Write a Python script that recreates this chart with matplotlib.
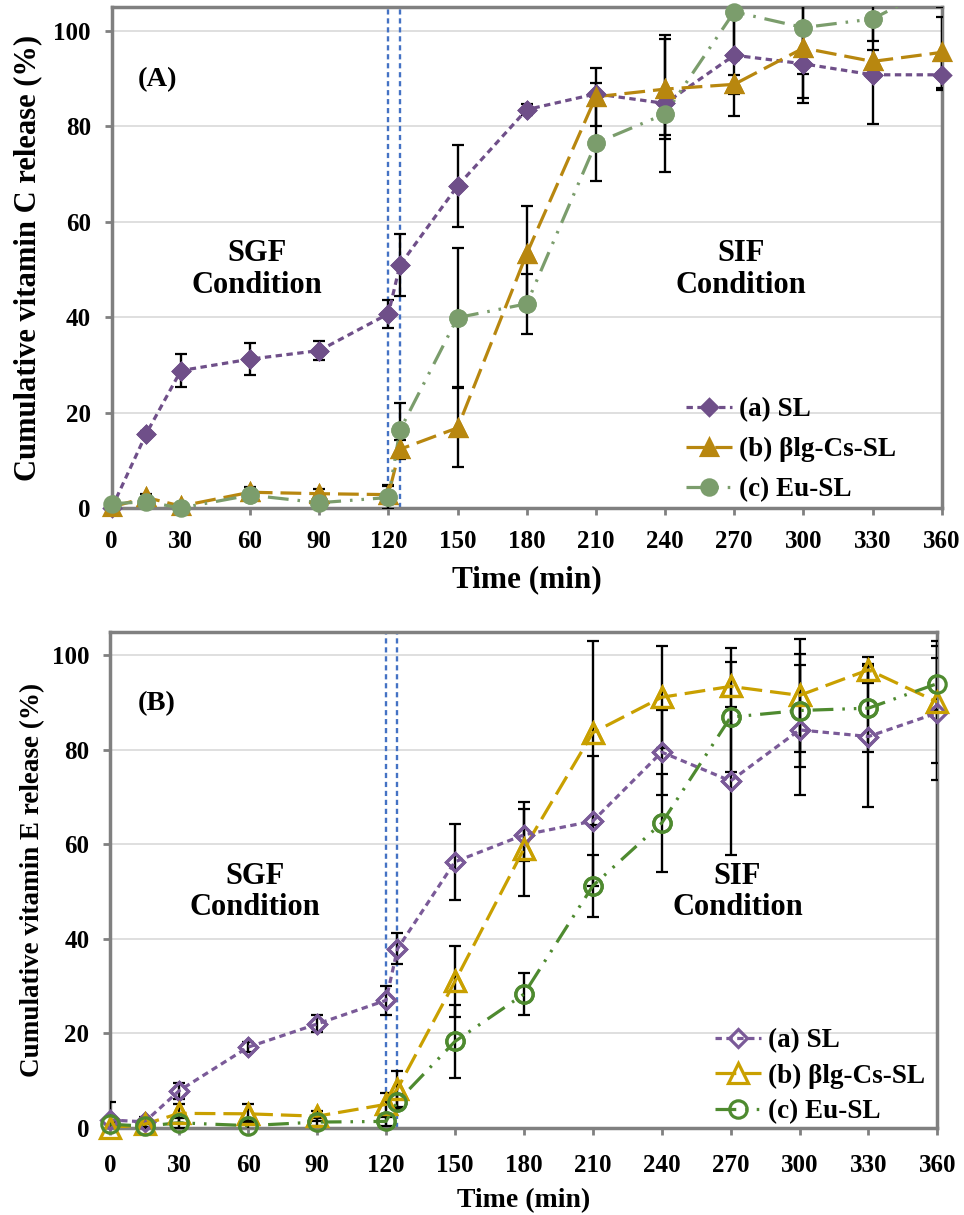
import matplotlib
matplotlib.use("Agg")
import matplotlib.pyplot as plt
import numpy as np

plt.rcParams["font.family"] = ["Liberation Serif", "DejaVu Serif"]
plt.rcParams["font.weight"] = "bold"

# sampling times (min); 125 is the first point after the SGF -> SIF switch
t = [0, 15, 30, 60, 90, 120, 125, 150, 180, 210, 240, 270, 300, 330, 360]

# (A) vitamin C
vitC_SL = [0.0, 15.6, 28.8, 31.2, 33.0, 40.7, 50.9, 67.5, 83.5, 86.8, 84.8, 94.9, 93.1, 90.8, 90.8]
vitC_SL_err = [0.5, 0.5, 3.4, 3.3, 2.0, 2.9, 6.5, 8.6, 1.2, 2.3, 14.3, 12.7, 8.3, 10.4, 3.1]
vitC_BCS = [0.2, 2.2, 0.4, 3.3, 3.0, 2.8, 12.3, 16.8, 53.3, 86.2, 87.8, 88.8, 96.4, 93.6, 95.5]
vitC_BCS_err = [0.5, 0.8, 0.5, 1.0, 1.0, 2.0, 2.0, 8.3, 10.0, 6.1, 10.5, 2.0, 10.5, 2.4, 7.5]
vitC_EU = [0.9, 1.3, 0.0, 2.7, 1.1, 2.2, 16.3, 39.9, 42.8, 76.5, 82.6, 104.0, 100.7, 102.5, 110.0]
vitC_EU_err = [0.5, 0.5, 0.5, 1.0, 0.5, 2.5, 5.8, 14.6, 6.3, 8.0, 4.5, 10.0, 9.8, 4.6, 5.0]

# (B) vitamin E
vitE_SL = [1.7, 1.3, 7.9, 17.1, 22.0, 27.0, 37.9, 56.3, 62.0, 64.9, 79.5, 73.4, 84.2, 82.8, 87.8]
vitE_SL_err = [3.7, 1.0, 1.7, 1.0, 1.8, 3.0, 3.3, 8.1, 5.5, 13.7, 9.0, 15.6, 13.7, 15.0, 14.2]
vitE_BCS = [0.0, 0.8, 3.1, 3.0, 2.5, 5.0, 8.3, 31.0, 59.0, 83.6, 91.1, 93.4, 91.5, 96.9, 90.1]
vitE_BCS_err = [0.5, 0.5, 2.0, 2.0, 1.0, 2.5, 3.8, 7.5, 10.0, 19.5, 10.8, 8.1, 12.0, 2.7, 13.0]
vitE_EU = [0.8, 0.4, 1.1, 0.5, 1.25, 1.4, 5.6, 18.3, 28.3, 51.2, 64.5, 86.9, 88.3, 88.8, 94.0]
vitE_EU_err = [0.5, 0.5, 1.0, 1.0, 0.8, 1.0, 1.5, 7.7, 4.5, 6.5, 10.4, 11.7, 12.0, 9.3, 5.5]

labels = ["(a) SL", "(b) \u03b2lg-Cs-SL", "(c) Eu-SL"]
xticks = list(range(0, 361, 30))
YMAX = 105

dash_sl = (0, (2.0, 1.4))
dash_bcs = (0, (6.5, 2.5))
dash_eu = (0, (6.5, 2.8, 0.8, 2.8, 0.8, 2.8))

GRAY = "#808080"


def style_axes(ax, ylabel, xlab_size, ylab_size, xpad, xlabpad, ylabpad):
    ax.set_xlim(0, 360)
    ax.set_ylim(0, YMAX)
    ax.set_xticks(xticks)
    ax.set_yticks([0, 20, 40, 60, 80, 100])
    ax.yaxis.grid(True, color="#D9D9D9", lw=1.2)
    ax.set_axisbelow(True)
    for sp in ax.spines.values():
        sp.set_color(GRAY)
        sp.set_linewidth(2.5)
    ax.tick_params(colors=GRAY, width=2, length=5, labelcolor="black",
                   labelsize=18)
    ax.tick_params(axis="x", pad=xpad)
    ax.tick_params(axis="y", pad=10)
    for lbl in ax.get_xticklabels() + ax.get_yticklabels():
        lbl.set_fontweight("bold")
    ax.set_xlabel("Time (min)", fontsize=xlab_size, fontweight="bold", labelpad=xlabpad)
    ax.set_ylabel(ylabel, fontsize=ylab_size, fontweight="bold", labelpad=ylabpad)
    for xv in (120, 125):
        ax.axvline(xv, color="#4472C4", lw=1.7, ls=(0, (2.2, 1.6)), zorder=1)


def draw_series(ax, y, err, color, ls, marker, ms, filled, label):
    y = np.asarray(y, dtype=float)
    ax.errorbar(t, y, yerr=err, fmt="none", ecolor="black", elinewidth=1.7,
                capsize=4.5, capthick=1.6, zorder=3)
    mfc = color if filled else "none"
    ax.plot(t, y, color=color, ls=ls, lw=2.3, marker=marker, ms=ms,
            mfc=mfc, mec=color, mew=2.3, label=label, zorder=4)
    # markers may spill over the frame, as long as the point is on the scale
    keep = y <= YMAX
    ax.plot(np.asarray(t)[keep], y[keep], ls="none", marker=marker, ms=ms,
            mfc=mfc, mec=color, mew=2.3, clip_on=False, zorder=5)


fig = plt.figure(figsize=(9.64, 12.15), dpi=100)
axA = fig.add_axes([0.1159, 0.5819, 0.861, 0.4123])
axB = fig.add_axes([0.1144, 0.0716, 0.858, 0.4086])

# panel A
style_axes(axA, "Cumulative vitamin C release (%)", 22.5, 22, 11, 8.5, 8)
draw_series(axA, vitC_SL, vitC_SL_err, "#6F4F89", dash_sl, "D", 8.5, True, labels[0])
draw_series(axA, vitC_BCS, vitC_BCS_err, "#B8870F", dash_bcs, "^", 12, True, labels[1])
draw_series(axA, vitC_EU, vitC_EU_err, "#7B9D6C", dash_eu, "o", 11, True, labels[2])

# panel B
style_axes(axB, "Cumulative vitamin E release (%)", 20, 19.5, 14, 7.5, 5)
draw_series(axB, vitE_SL, vitE_SL_err, "#7A5A98", dash_sl, "D", 9.5, False, labels[0])
draw_series(axB, vitE_BCS, vitE_BCS_err, "#C9A000", dash_bcs, "^", 14, False, labels[1])
draw_series(axB, vitE_EU, vitE_EU_err, "#4E8A2F", dash_eu, "o", 12.5, False, labels[2])

for ax, tag, leg_x, leg_y, spacing in ((axA, "(A)", 0.692, 0.012, 0.55),
                                       (axB, "(B)", 0.731, 0.008, 0.38)):
    ax.text(20, 89.7, tag, fontsize=20.5, fontweight="bold", ha="center", va="center")
    ax.text(63, 50, "SGF\nCondition", fontsize=22, fontweight="bold",
            ha="center", va="center", linespacing=1.1)
    ax.text(273, 50, "SIF\nCondition", fontsize=22, fontweight="bold",
            ha="center", va="center", linespacing=1.1)
    ax.legend(loc="lower left", bbox_to_anchor=(leg_x, leg_y), frameon=False,
              handlelength=1.7, handletextpad=0.25, labelspacing=spacing,
              borderpad=0, borderaxespad=0, numpoints=1,
              prop={"weight": "bold", "size": 19.5})

fig.savefig("out.png", dpi=100)
